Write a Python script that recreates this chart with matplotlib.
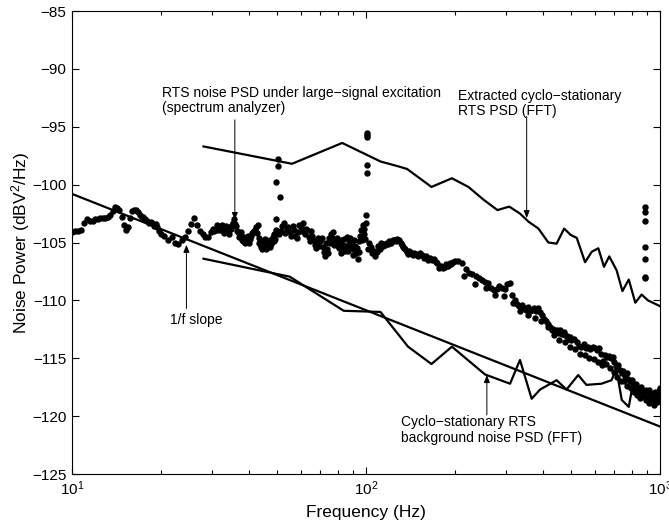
import numpy as np
import matplotlib
matplotlib.use("Agg")
import matplotlib.pyplot as plt

plt.rcParams['font.family'] = ['Liberation Sans', 'DejaVu Sans']
plt.rcParams['mathtext.fontset'] = 'custom'
plt.rcParams['mathtext.rm'] = 'Liberation Sans'
plt.rcParams['mathtext.it'] = 'Liberation Sans:italic'

# spectrum analyzer trace (dots)
spec_f = [10.0, 10.25, 10.5, 10.75, 11.0, 11.25, 11.5, 11.75, 12.0, 12.25, 12.5, 12.75, 13.0, 13.25,
          13.5, 13.75, 14.0, 14.25, 14.5, 14.75, 15.0, 15.25, 15.5, 15.75, 16.0, 16.25, 16.5, 16.75,
          17.0, 17.25, 17.5, 17.75, 18.0, 18.25, 18.5, 18.75, 19.0, 19.25, 19.5, 19.75, 20.0,
          20.6, 21.2, 21.8, 22.4, 23.0, 23.6, 24.2, 24.8, 25.4, 26.0, 26.6, 27.2, 27.8, 28.4, 29.0,
          29.6, 30.2, 30.8, 31.4, 32.0, 32.6, 33.2, 33.8, 34.4, 35.0, 35.6, 36.2, 36.8, 37.4, 38.0,
          38.6, 39.2, 39.8, 40.4, 41.0, 41.6, 42.2, 42.8, 43.4, 44.0, 44.6, 45.2, 45.8, 46.4, 47.0,
          47.6, 48.2, 48.8, 49.4, 50.0,
          51.25, 52.5, 53.75, 55.0, 56.25, 57.5, 58.75, 60.0, 61.25, 62.5, 63.75, 65.0, 66.25, 67.5,
          68.75, 70.0, 71.25, 72.5, 73.75, 75.0, 76.25, 77.5, 78.75, 80.0, 81.25, 82.5, 83.75, 85.0,
          86.25, 87.5, 88.75, 90.0, 91.25, 92.5, 93.75, 95.0, 96.25, 97.5, 98.75, 100.0,
          102.5, 105, 107.5, 110, 112.5, 115, 117.5, 120, 122.5, 125, 127.5, 130, 132.5, 135, 137.5,
          140, 142.5, 145, 147.5, 150, 152.5, 155, 157.5, 160, 162.5, 165, 167.5, 170, 172.5, 175,
          177.5, 180, 182.5, 185, 187.5, 190, 192.5, 195, 197.5, 200,
          206, 212, 218, 224, 230, 236, 242, 248, 254, 260, 266, 272, 278, 284, 290, 296, 302, 308,
          314, 320, 326, 332, 338, 344, 350, 356, 362, 368, 374, 380, 386, 392, 398, 404, 410, 416,
          422, 428, 434, 440, 446, 452, 458, 464, 470, 476, 482, 488, 494, 500,
          510, 520, 530, 540, 550, 560, 570, 580, 590, 600, 610, 620, 630, 640, 650, 660, 670, 680,
          690, 700, 710, 720, 730, 740, 750, 760, 770, 780, 790, 800, 810, 820, 830, 840, 850, 860,
          870, 880, 890, 900, 910, 920, 930, 940, 950, 960, 970, 980, 990, 1000]
spec_db = [-104.1, -104.0, -104.0, -103.9, -103.3, -103.0, -103.1, -103.1, -103.0, -103.0, -102.9,
           -102.9, -102.9, -102.8, -102.6, -102.3, -101.9, -102.0, -102.2, -102.8, -103.5, -103.9,
           -103.7, -102.9, -102.3, -102.2, -102.2, -102.4, -102.6, -102.8, -102.8, -103.0, -103.1,
           -103.3, -103.2, -103.3, -103.6, -103.4, -103.7, -104.0, -104.3,
           -104.4, -104.8, -104.5, -105.0, -105.1, -104.8, -104.5, -104.0, -103.4, -102.9, -103.5,
           -104.0, -104.3, -104.5, -104.5, -104.1, -103.8, -103.9, -103.6, -103.7, -104.0, -103.8,
           -104.1, -103.7, -103.5, -103.0, -103.6, -104.1, -104.3, -104.8, -104.5, -104.9, -104.4,
           -104.7, -104.2, -104.0, -103.7, -103.5, -104.6, -105.4, -104.9, -105.0, -105.6, -105.3,
           -104.8, -105.1, -104.5, -104.9, -103.9, -104.2,
           -104.0, -103.3, -103.8, -104.1, -103.6, -104.4, -104.1, -103.7, -103.3, -103.8, -104.5,
           -104.0, -104.8, -105.5, -104.6, -104.9, -105.4, -106.2, -105.6, -104.6, -104.3, -104.1,
           -104.9, -105.3, -105.5, -104.8, -105.2, -105.7, -104.5, -104.9, -105.3, -105.6, -104.8,
           -105.9, -106.4, -104.9, -103.9, -103.5, -104.3, -103.3,
           -105.0, -105.9, -106.2, -105.3, -105.0, -105.1, -105.0, -104.9, -104.9, -104.8, -104.7,
           -104.8, -105.2, -105.5, -105.8, -105.7, -105.9, -106.1, -106.0, -106.2, -105.9, -106.1,
           -106.3, -106.2, -106.5, -106.3, -106.5, -106.4, -106.7, -106.8, -107.2, -107.0, -107.2,
           -107.1, -106.9, -107.0, -106.8, -106.9, -106.7, -106.6,
           -106.6, -106.8, -107.3, -107.6, -107.7, -107.9, -108.1, -108.2, -108.4, -108.5, -108.9,
           -109.1, -109.0, -108.8, -108.9, -109.0, -108.6, -108.5, -109.5, -110.0, -110.3, -110.5,
           -110.4, -110.7, -110.8, -110.6, -110.9, -110.8, -110.7, -110.9, -110.7, -111.0, -111.3,
           -111.6, -111.8, -112.0, -112.3, -112.6, -112.5, -112.7, -112.6, -112.8, -112.6, -112.9,
           -112.7, -113.0, -113.1, -113.3, -113.2, -113.4,
           -113.3, -113.6, -113.9, -114.0, -113.8, -114.1, -114.0, -114.2, -114.0, -114.1, -114.3,
           -114.1, -114.6, -115.2, -114.7, -114.9, -114.8, -115.0, -114.9, -115.3, -115.7, -115.6,
           -116.0, -116.3, -116.1, -116.5, -116.3, -116.8, -117.0, -116.9, -117.2, -117.4, -117.2,
           -117.6, -117.8, -117.5, -117.9, -118.2, -117.8, -118.0, -118.3, -117.7, -118.4, -118.8,
           -118.1, -117.9, -118.5, -118.2, -117.8, -117.6]

# in-between points of the dense part of the trace (30-150 Hz)
mid_f = [30.5, 31.1, 31.7, 32.3, 32.9, 33.5, 34.1, 34.7, 35.3, 35.9, 36.5, 37.1, 37.7, 38.3, 38.9,
         39.5, 40.1, 40.7, 41.3, 41.9, 42.5, 43.1, 43.7, 44.3, 44.9, 45.5, 46.1, 46.7, 47.3, 47.9,
         48.5, 49.1, 49.7,
         50.6, 51.9, 53.1, 54.4, 55.6, 56.9, 58.1, 59.4, 60.6, 61.9, 63.1, 64.4, 65.6, 66.9, 68.1,
         69.4, 70.6, 71.9, 73.1, 74.4, 75.6, 76.9, 78.1, 79.4, 80.6, 81.9, 83.1, 84.4, 85.6, 86.9,
         88.1, 89.4, 90.6, 91.9, 93.1, 94.4, 95.6, 96.9, 98.1, 99.4,
         101.2, 103.8, 106.2, 108.8, 111.2, 113.8, 116.2, 118.8, 121.2, 123.8, 126.2, 128.8,
         131.2, 133.8, 136.2, 138.8, 141.2, 143.8, 146.2, 148.8]
mid_db = [-104.0, -103.5, -103.9, -103.5, -104.2, -103.6, -104.3, -103.8, -103.3, -103.4, -104.0,
          -104.5, -104.1, -104.9, -105.0, -104.6, -105.0, -104.4, -104.1, -103.9, -104.2, -105.0,
          -105.1, -105.6, -105.2, -104.7, -105.4, -105.0, -105.4, -104.8, -104.3, -104.7, -104.0,
          -104.3, -103.6, -104.2, -103.7, -104.4, -103.9, -104.6, -103.5, -104.0, -104.3, -103.9,
          -104.9, -104.4, -105.2, -104.9, -105.3, -104.6, -105.8, -105.0, -105.9, -105.0, -104.6,
          -105.2, -104.6, -105.0, -105.9, -105.4, -104.7, -105.3, -105.7, -104.6, -105.2, -106.1,
          -105.3, -105.5, -105.8, -104.4, -104.8, -103.8, -104.7,
          -105.6, -105.4, -105.7, -105.8, -105.6, -105.3, -105.2, -105.1, -105.0, -104.8, -104.9,
          -104.8, -105.0, -105.4, -105.6, -106.0, -105.8, -106.0, -105.9, -106.1]

# lower edge of the dense band at high frequency
band_f = [215, 235, 255, 275, 295, 315, 335, 355, 375, 395, 415, 435, 455, 475, 495, 515, 535, 555,
          575, 595, 615, 635, 655, 675, 695, 715, 735, 755, 775, 795, 815, 835, 855, 875, 895, 915,
          935, 955, 975, 995]
band_db = [-107.9, -108.6, -108.9, -109.5, -109.6, -110.2, -110.9, -111.3, -111.5, -111.8, -112.3,
           -113.0, -113.4, -113.6, -114.0, -114.2, -114.6, -114.7, -115.0, -115.1, -115.3, -115.6,
           -115.5, -115.8, -116.2, -116.6, -117.0, -117.0, -117.4, -117.6, -117.9, -118.2, -118.4,
           -118.3, -118.6, -118.9, -118.7, -119.0, -118.8, -118.5]

# spurs at 50 Hz, 100 Hz and ~890 Hz
spur_f = [50.1, 50.3, 49.4, 51.0, 49.4, 100.6, 100.6, 100.6, 100.4, 100.8, 100.2,
          889, 889, 889, 887, 889, 887, 889]
spur_db = [-97.8, -98.4, -99.8, -101.1, -103.0, -95.5, -95.7, -95.9, -98.3, -99.0, -102.6,
           -101.9, -102.4, -103.1, -105.4, -106.4, -108.0, -108.1]

# extracted cyclo-stationary RTS PSD (FFT)
rts_f = [28, 56, 83, 112, 130, 138, 167, 196, 223, 251, 280, 307, 334, 357, 386, 417, 445, 472,
         497, 521, 556, 586, 617, 645, 672, 712, 745, 783, 824, 866, 910, 1000]
rts_db = [-96.7, -98.2, -96.4, -98.0, -98.45, -98.65, -100.2, -99.45, -100.2, -101.3, -102.2,
          -101.9, -102.5, -103.2, -103.8, -105.0, -105.1, -103.8, -104.35, -104.6, -106.7, -105.8,
          -105.5, -107.1, -106.2, -107.4, -109.2, -108.2, -110.2, -109.5, -110.0, -110.5]

# cyclo-stationary RTS background noise PSD (FFT)
bg_f = [28, 55, 84, 112, 139, 167, 196, 254, 309, 334, 366, 391, 445, 481, 527, 562, 632, 684,
        710, 741, 783, 805, 850, 900, 950, 1000]
bg_db = [-106.4, -107.95, -110.9, -111.0, -114.0, -115.5, -114.0, -116.4, -117.2, -115.15,
         -118.5, -117.7, -116.9, -117.7, -116.45, -117.3, -117.2, -116.9, -115.9, -118.6, -119.2,
         -117.5, -117.9, -117.6, -118.0, -117.7]

# 1/f reference line
slope_f = [10, 1000]
slope_db = [-100.8, -120.9]

fig = plt.figure(figsize=(6.69, 5.25), dpi=100)
ax = fig.add_axes([72/669, 1 - 474/525, 588/669, 463/525])

ms = 4.6
ax.plot(spec_f, spec_db, 'o', color='k', ms=ms, mew=0)
ax.plot(mid_f, mid_db, 'o', color='k', ms=ms, mew=0)
ax.plot(band_f, band_db, 'o', color='k', ms=ms, mew=0)
ax.plot(spur_f, spur_db, 'o', color='k', ms=ms, mew=0)
ax.plot(rts_f, rts_db, 'k-', lw=1.6)
ax.plot(bg_f, bg_db, 'k-', lw=1.6)
ax.plot(slope_f, slope_db, 'k-', lw=1.6)

ax.set_xscale('log')
ax.set_xlim(10, 1000)
ax.set_ylim(-125, -85)
ax.set_yticks(np.arange(-125, -84, 5))
ax.tick_params(which='both', direction='in', top=True, right=True, labelsize=11, pad=4)
ax.tick_params(which='major', length=5, width=0.8)
ax.tick_params(which='minor', length=3, width=0.8)
for s in ax.spines.values():
    s.set_linewidth(0.8)

ax.set_xlabel("Frequency (Hz)", fontsize=12.5, labelpad=5)
ax.set_ylabel("Noise Power (dBV$^2$/Hz)", fontsize=12.5, labelpad=0)

arrow = dict(arrowstyle='-|>,head_length=0.45,head_width=0.18', color='k', lw=0.7,
             mutation_scale=10, shrinkA=0, shrinkB=0)
tfs = 10

ax.text(20.2, -92.7, "RTS noise PSD under large\u2212signal excitation\n(spectrum analyzer)",
        fontsize=tfs, va='center', ha='left', linespacing=1.1)
ax.annotate('', xy=(35.8, -103.06), xytext=(35.8, -94.4), arrowprops=arrow)

ax.text(206, -93.0, "Extracted cyclo\u2212stationary\nRTS PSD (FFT)",
        fontsize=tfs, va='center', ha='left', linespacing=1.1)
ax.annotate('', xy=(352, -102.9), xytext=(352, -94.1), arrowprops=arrow)

ax.text(21.5, -111.7, "1/f slope", fontsize=tfs, va='center', ha='left')
ax.annotate('', xy=(24.5, -105.2), xytext=(24.5, -110.7), arrowprops=arrow)

ax.text(132, -121.2, "Cyclo\u2212stationary RTS\nbackground noise PSD (FFT)",
        fontsize=tfs, va='center', ha='left', linespacing=1.1)
ax.annotate('', xy=(257.7, -116.45), xytext=(257.7, -119.9), arrowprops=arrow)

fig.savefig('out.png', dpi=100)
